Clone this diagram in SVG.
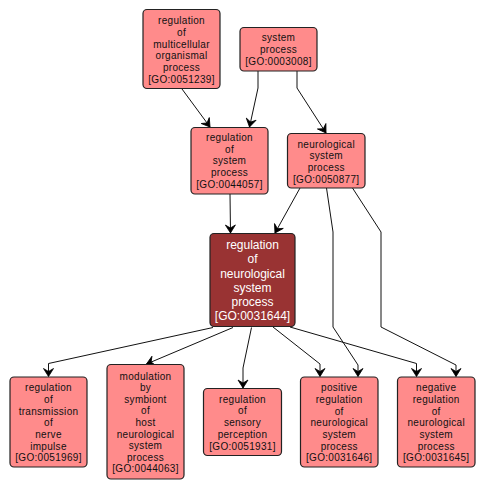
<svg xmlns="http://www.w3.org/2000/svg" width="486" height="490" viewBox="0 0 486 490">
<style>
.n rect{fill:#ff8b8b;stroke:#222;stroke-width:1.2}
.n text{font-family:"Liberation Sans",Arial,sans-serif;font-size:10px;letter-spacing:0.3px;fill:#111;text-anchor:middle}
.c rect{fill:#993333;stroke:#222;stroke-width:1.2}
.c text{font-family:"Liberation Sans",Arial,sans-serif;font-size:12px;fill:#fff;text-anchor:middle}
.e path{fill:none;stroke:#111;stroke-width:1;marker-end:url(#ah)}
</style>
<defs>
<marker id="ah" markerUnits="userSpaceOnUse" markerWidth="12" markerHeight="12" viewBox="-10 -6 12 12" refX="0" refY="0" orient="auto">
<path d="M0,0 L-8,-5 L-5,0 L-8,5 Z" fill="#000" stroke="#000" stroke-width="0.8" stroke-linejoin="miter"/>
</marker>
</defs>
<rect width="486" height="490" fill="#fff"/>
<g id="edges" class="e">
<path d="M182,89 L210,127"/>
<path d="M258,71 L258,88 L249.5,127"/>
<path d="M297,71 L297,88 L326,133"/>
<path d="M230,194 L230.5,233"/>
<path d="M300,188 L275,233"/>
<path d="M326.5,188 L333,232 L333,327 L358,365 L358,376.5"/>
<path d="M352.5,188 L381,232 L381,327 L456,365 L456,376.5"/>
<path d="M273,327 L320,364 L320,376.5"/>
<path d="M290,327 L416.5,363.5 L416.5,376.5"/>
<path d="M213,327.5 L48.5,363.5 L48.5,376.5"/>
<path d="M233,327.5 L146.5,364"/>
<path d="M251.5,327.5 L243,368 L243,388"/>
</g>
<g id="n1" class="n">
<rect x="143" y="9.5" width="77" height="79" rx="4"/>
<text x="181.5" y="24.3">regulation</text>
<text x="181.5" y="36">of</text>
<text x="181.5" y="47.7">multicellular</text>
<text x="181.5" y="59.4">organismal</text>
<text x="181.5" y="71.1">process</text>
<text x="181.5" y="82.8">[GO:0051239]</text>
</g>
<g id="n2" class="n">
<rect x="240" y="27.5" width="77" height="43.5" rx="4"/>
<text x="278.5" y="41.3">system</text>
<text x="278.5" y="53.1">process</text>
<text x="278.5" y="64.9">[GO:0003008]</text>
</g>
<g id="n3" class="n">
<rect x="191" y="127.5" width="77" height="66.5" rx="4"/>
<text x="229.5" y="141.2">regulation</text>
<text x="229.5" y="152.8">of</text>
<text x="229.5" y="164.4">system</text>
<text x="229.5" y="176">process</text>
<text x="229.5" y="187.6">[GO:0044057]</text>
</g>
<g id="n4" class="n">
<rect x="287.5" y="133.5" width="77.5" height="54.5" rx="4"/>
<text x="326.2" y="147.5">neurological</text>
<text x="326.2" y="159.2">system</text>
<text x="326.2" y="170.9">process</text>
<text x="326.2" y="182.6">[GO:0050877]</text>
</g>
<g id="n5" class="c">
<rect x="210" y="233.5" width="85" height="93" rx="4"/>
<text x="252.5" y="249.3">regulation</text>
<text x="252.5" y="263.4">of</text>
<text x="252.5" y="277.5">neurological</text>
<text x="252.5" y="291.6">system</text>
<text x="252.5" y="305.7">process</text>
<text x="252.5" y="319.8">[GO:0031644]</text>
</g>
<g id="n6" class="n">
<rect x="10" y="377" width="77" height="90" rx="4"/>
<text x="48.5" y="391.2">regulation</text>
<text x="48.5" y="402.9">of</text>
<text x="48.5" y="414.6">transmission</text>
<text x="48.5" y="426.3">of</text>
<text x="48.5" y="438">nerve</text>
<text x="48.5" y="449.7">impulse</text>
<text x="48.5" y="461.4">[GO:0051969]</text>
</g>
<g id="n7" class="n">
<rect x="107" y="364.5" width="77" height="114.5" rx="4"/>
<text x="145.5" y="379.5">modulation</text>
<text x="145.5" y="391.1">by</text>
<text x="145.5" y="402.7">symbiont</text>
<text x="145.5" y="414.3">of</text>
<text x="145.5" y="425.9">host</text>
<text x="145.5" y="437.5">neurological</text>
<text x="145.5" y="449.1">system</text>
<text x="145.5" y="460.7">process</text>
<text x="145.5" y="472.3">[GO:0044063]</text>
</g>
<g id="n8" class="n">
<rect x="203.5" y="388.5" width="78" height="67" rx="4"/>
<text x="242.5" y="402.5">regulation</text>
<text x="242.5" y="414.3">of</text>
<text x="242.5" y="426.1">sensory</text>
<text x="242.5" y="437.9">perception</text>
<text x="242.5" y="449.7">[GO:0051931]</text>
</g>
<g id="n9" class="n">
<rect x="300.5" y="377" width="77.5" height="90" rx="4"/>
<text x="339.2" y="391.2">positive</text>
<text x="339.2" y="402.9">regulation</text>
<text x="339.2" y="414.6">of</text>
<text x="339.2" y="426.3">neurological</text>
<text x="339.2" y="438">system</text>
<text x="339.2" y="449.7">process</text>
<text x="339.2" y="461.4">[GO:0031646]</text>
</g>
<g id="n10" class="n">
<rect x="397.5" y="377" width="77.5" height="90" rx="4"/>
<text x="436.2" y="391.2">negative</text>
<text x="436.2" y="402.9">regulation</text>
<text x="436.2" y="414.6">of</text>
<text x="436.2" y="426.3">neurological</text>
<text x="436.2" y="438">system</text>
<text x="436.2" y="449.7">process</text>
<text x="436.2" y="461.4">[GO:0031645]</text>
</g>
</svg>
